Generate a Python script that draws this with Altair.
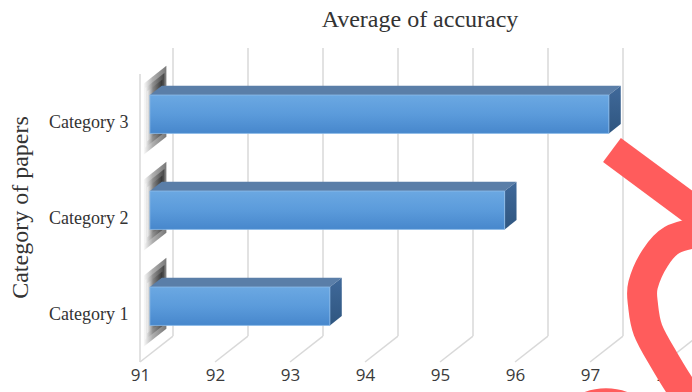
import altair as alt
import pandas as pd

# ---------------- data ----------------
categories = ["Category 1", "Category 2", "Category 3"]
accuracy = [93.40, 95.73, 97.12]
x_ticks = [91, 92, 93, 94, 95, 96, 97, 98]

# red hand-drawn annotation (data units)
red_stroke_x = [97.293, 98.733]
red_stroke_y = [1.708, 0.875]
red_ring_x = [98.467, 98.093, 97.867, 97.707, 97.707, 97.773, 97.987, 98.253, 98.40]
red_ring_y = [0.854, 0.771, 0.583, 0.302, 0.094, -0.167, -0.479, -0.8125, -0.948]
red_dot_x = [97.213]
red_dot_y = [-1.42]

# ---------------- 3D style constants ----------------
X_MIN = 91
DX = 0.44      # x shift of full depth (data units)
DY = 0.27      # y shift of full depth (data units)
Z0, Z1 = 0.30, 0.66   # bar front / back depth
H = 0.20       # bar half thickness
FLOOR, CEIL = -0.5, 2.5

# ---------------- tables built from the arrays ----------------
front_rows, top_rows, side_rows, shadow_rows = [], [], [], []
for i, (c, v) in enumerate(zip(categories, accuracy)):
    front_rows.append(dict(cat=c, x=X_MIN + Z0 * DX, x2=v + Z0 * DX,
                           y=i - H + Z0 * DY, y2=i + H + Z0 * DY))
    for z in (Z0, Z1):
        top_rows.append(dict(cat=c, y=i + H + z * DY, x=X_MIN + z * DX, x2=v + z * DX))
        side_rows.append(dict(cat=c, x=v + z * DX, y=i - H + z * DY, y2=i + H + z * DY))
    for s, (z0, z1, hh) in enumerate([(0.10, 0.80, 0.37), (0.16, 0.74, 0.31), (0.22, 0.68, 0.26)]):
        for z in (z0, z1):
            shadow_rows.append(dict(cat=c, s=f"{c}-{s}", x=X_MIN + z * DX,
                                    y=i - hh + z * DY, y2=i + hh + z * DY))

front = pd.DataFrame(front_rows)
top = pd.DataFrame(top_rows)
side = pd.DataFrame(side_rows)
shadow = pd.DataFrame(shadow_rows)

grid = pd.DataFrame(dict(x=[t + DX for t in x_ticks], y=FLOOR + DY, y2=CEIL + DY))
floor = pd.DataFrame(dict(x=x_ticks, x2=[t + DX for t in x_ticks], y=FLOOR, y2=FLOOR + DY))
leftwall = pd.DataFrame(dict(x=[X_MIN], y=[FLOOR], y2=[CEIL]))
axis_df = pd.DataFrame(dict(x=[X_MIN], y=[0]))

red_stroke = pd.DataFrame(dict(x=red_stroke_x, y=red_stroke_y, k=range(len(red_stroke_x))))
red_ring = pd.DataFrame(dict(x=red_ring_x, y=red_ring_y, k=range(len(red_ring_x))))
red_dot = pd.DataFrame(dict(x=red_dot_x, y=red_dot_y))

# ---------------- scales ----------------
xs = alt.Scale(domain=[91, 98.36], nice=False, zero=False)
ys = alt.Scale(domain=[-0.5, 2.8542], nice=False, zero=False)

GRID = "#d9d9d9"
RED = "#ff5c5c"


def X(field="x"):
    return alt.X(f"{field}:Q", scale=xs)


def Y(field="y"):
    return alt.Y(f"{field}:Q", scale=ys)


cat_expr = "['Category 1','Category 2','Category 3'][datum.value]"

base_axes = alt.Chart(axis_df).mark_point(opacity=0).encode(
    x=alt.X("x:Q", scale=xs, axis=alt.Axis(values=x_ticks, title=None, format="d")),
    y=alt.Y("y:Q", scale=ys, axis=alt.Axis(values=[0, 1, 2], labelExpr=cat_expr,
                                           title="Category of papers")),
)

gridlines = alt.Chart(grid).mark_rule(color=GRID, strokeWidth=1.5).encode(
    x=X(), y=Y(), y2="y2:Q")
floorlines = alt.Chart(floor).mark_rule(color=GRID, strokeWidth=1.5).encode(
    x=X(), x2="x2:Q", y=Y(), y2="y2:Q")
leftline = alt.Chart(leftwall).mark_rule(color=GRID, strokeWidth=1.5).encode(
    x=X(), y=Y(), y2="y2:Q")

shadow_fill = alt.Gradient(
    gradient="linear",
    stops=[alt.GradientStop(color="#ffffff", offset=0),
           alt.GradientStop(color="#7a7a7a", offset=0.4),
           alt.GradientStop(color="#1e1e1e", offset=1)],
    x1=0, x2=1, y1=0, y2=0)
shadows = alt.Chart(shadow).mark_area(orient="vertical", fill=shadow_fill, opacity=0.6).encode(
    x=X(), y=Y(), y2="y2:Q", detail="s:N")

top_faces = alt.Chart(top).mark_area(orient="horizontal", color="#5a7ea8").encode(
    y=Y(), x=X(), x2="x2:Q", detail="cat:N")

side_fill = alt.Gradient(
    gradient="linear",
    stops=[alt.GradientStop(color="#40699a", offset=0),
           alt.GradientStop(color="#2f5680", offset=1)],
    x1=0, x2=0, y1=0, y2=1)
side_faces = alt.Chart(side).mark_area(orient="vertical", fill=side_fill).encode(
    x=X(), y=Y(), y2="y2:Q", detail="cat:N")

front_fill = alt.Gradient(
    gradient="linear",
    stops=[alt.GradientStop(color="#6ba8e2", offset=0),
           alt.GradientStop(color="#5b9bdb", offset=0.5),
           alt.GradientStop(color="#4787cc", offset=1)],
    x1=0, x2=0, y1=0, y2=1)
front_faces = alt.Chart(front).mark_rect(fill=front_fill, stroke="#8dbbe8", strokeWidth=0.8).encode(
    x=X(), x2="x2:Q", y=Y(), y2="y2:Q")

red1 = alt.Chart(red_stroke).mark_line(color=RED, strokeWidth=30, strokeCap="butt").encode(
    x=X(), y=Y(), order="k:Q")
red2 = alt.Chart(red_ring).mark_line(color=RED, strokeWidth=30, strokeCap="butt",
                                     interpolate="cardinal").encode(
    x=X(), y=Y(), order="k:Q")
red3 = alt.Chart(red_dot).mark_point(filled=True, color=RED, opacity=1, size=15400,
                                     shape="circle").encode(x=X(), y=Y())

chart = alt.layer(
    base_axes, gridlines, floorlines, leftline, shadows,
    top_faces, side_faces, front_faces, red1, red2, red3
).properties(
    width=552, height=322,
    title=alt.TitleParams("Average of accuracy", font="Liberation Serif", fontSize=24,
                          fontWeight="normal", color="#333333", anchor="middle",
                          offset=8, dx=4),
    autosize=alt.AutoSizeParams(type="none"),
    padding={"left": 140, "top": 40, "right": 0, "bottom": 30},
).configure(
    background="white"
).configure_view(
    strokeWidth=0, stroke="transparent"
).configure_axisX(
    grid=False, domain=False, ticks=False, labelFlush=False,
    labelFont="Open Sans", labelFontSize=17, labelColor="#3a3a3a", labelPadding=5,
).configure_axisY(
    grid=False, domain=False, ticks=False,
    labelFont="Liberation Serif", labelFontSize=18, labelColor="#333333",
    labelPadding=12,
    titleFont="Liberation Serif", titleFontSize=24, titleFontWeight="normal",
    titleColor="#333333", titleX=-120, titleY=167, titleAlign="center",
    titleBaseline="middle", titleAngle=270,
)

chart.save("out.html", embed_options={"renderer": "svg", "actions": False})
